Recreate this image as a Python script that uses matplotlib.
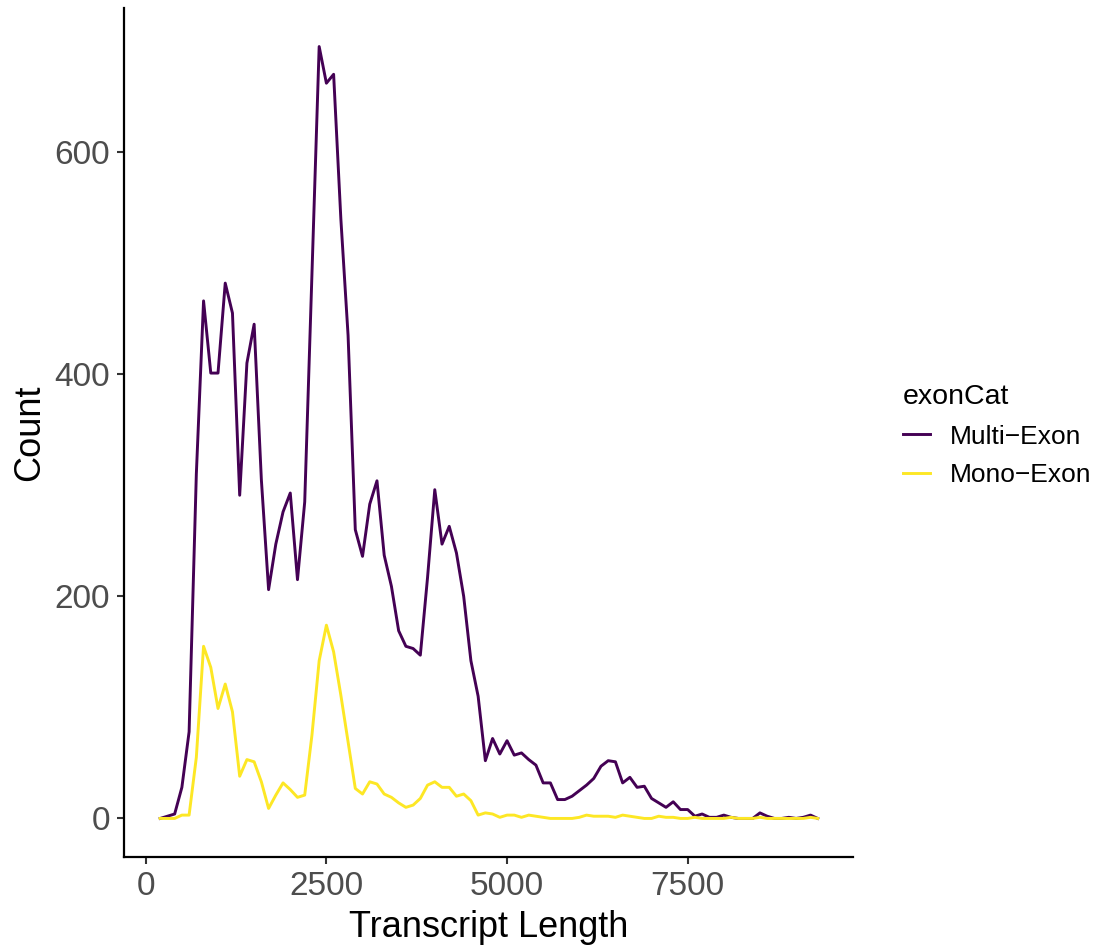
import matplotlib
matplotlib.use("Agg")
import matplotlib.pyplot as plt

plt.rcParams["font.family"] = ["Liberation Sans", "DejaVu Sans"]

# transcript length bins (bin centres, width 100)
lengths = list(range(200, 9400, 100))

multi_exon = [
    0, 2, 4, 28, 78, 310, 466, 401, 401, 482,
    455, 291, 410, 445, 305, 206, 247, 276, 293, 215,
    285, 490, 695, 662, 670, 540, 435, 260, 236, 283,
    304, 237, 209, 169, 155, 153, 147, 217, 296, 247,
    263, 239, 200, 142, 110, 52, 72, 58, 70, 57,
    59, 53, 48, 32, 32, 17, 17, 20, 25, 30,
    36, 47, 52, 51, 32, 37, 28, 29, 18, 14,
    10, 15, 8, 8, 2, 4, 1, 1, 3, 1,
    0, 0, 0, 5, 2, 0, 0, 1, 0, 1,
    3, 0,
]

mono_exon = [
    0, 0, 0, 3, 3, 55, 155, 136, 99, 121,
    96, 38, 53, 51, 33, 9, 21, 32, 26, 19,
    21, 75, 142, 174, 150, 111, 69, 27, 22, 33,
    31, 22, 19, 14, 10, 12, 18, 30, 33, 28,
    28, 20, 22, 16, 3, 5, 4, 1, 3, 3,
    1, 3, 2, 1, 0, 0, 0, 0, 1, 3,
    2, 2, 2, 1, 3, 2, 1, 0, 0, 2,
    1, 1, 0, 0, 1, 0, 0, 0, 0, 1,
    0, 0, 0, 1, 0, 0, 0, 0, 0, 0,
    1, 0,
]

series = {"Multi\u2212Exon": (multi_exon, "#440154"),
          "Mono\u2212Exon": (mono_exon, "#FDE725")}

fig = plt.figure(figsize=(10.98, 9.47), dpi=100)
ax = fig.add_axes([0.113, 0.095, 0.664, 0.8966])

for name, (vals, col) in series.items():
    ax.plot(lengths, vals, color=col, lw=2.1, label=name)

ax.set_xlim(-300, 9790)
ax.set_ylim(-34.75, 729.75)
ax.set_xticks([0, 2500, 5000, 7500])
ax.set_yticks([0, 200, 400, 600])

for side in ["top", "right"]:
    ax.spines[side].set_visible(False)
for side in ["left", "bottom"]:
    ax.spines[side].set_linewidth(1.6)
    ax.spines[side].set_color("black")

ax.tick_params(axis="both", length=5, width=1.5, color="#333333",
               labelsize=24, labelcolor="#4D4D4D", pad=5)

ax.set_xlabel("Transcript Length", fontsize=26, labelpad=6)
ax.set_ylabel("Count", fontsize=26, labelpad=5)

leg = ax.legend(title="exonCat", loc="center left", bbox_to_anchor=(0.801, 0.54),
                bbox_transform=fig.transFigure, frameon=False, fontsize=19,
                title_fontsize=20.5, handlelength=1.02, handletextpad=0.76,
                labelspacing=0.55, alignment="left")

plt.savefig("out.png", dpi=100)
